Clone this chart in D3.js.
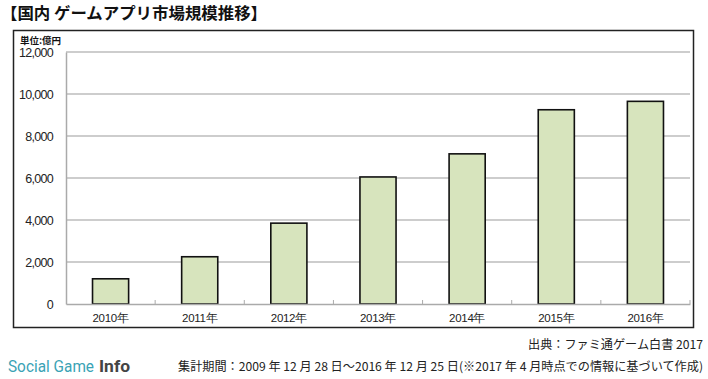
<!DOCTYPE html>
<html><head><meta charset="utf-8">
<script src="https://cdn.jsdelivr.net/npm/d3@7"></script>
<style>body{margin:0;background:#fff}svg{display:block}</style>
</head><body>
<svg id="c" width="708" height="379"></svg>
<script>
const categories = ["2010年","2011年","2012年","2013年","2014年","2015年","2016年"];
const values = [1200, 2250, 3850, 6050, 7150, 9250, 9650];
const yTicks = [0, 2000, 4000, 6000, 8000, 10000, 12000];

const svg = d3.select("#c");
const jp = "'Noto Sans CJK JP', sans-serif";
const lat = "'Liberation Sans', Arial, sans-serif";

// title
svg.append("text").attr("x", 1).attr("y", 19).attr("font-family", jp).attr("font-weight", "bold")
  .attr("font-size", 16).attr("fill", "#111").attr("textLength", 266).attr("lengthAdjust", "spacingAndGlyphs")
  .text("【国内 ゲームアプリ市場規模推移】");

// frame
svg.append("rect").attr("x", 13.5).attr("y", 30.5).attr("width", 680).attr("height", 297)
  .attr("fill", "#fff").attr("stroke", "#222").attr("stroke-width", 1.5);

const x = d3.scaleBand().domain(categories).range([66, 690]).paddingInner(0.595).paddingOuter(0.2975);
const xb = d3.scaleBand().domain(categories).range([66, 690]);
const y = d3.scaleLinear().domain([0, 12000]).range([304, 52]);

// gridlines
svg.append("g").selectAll("line").data(yTicks.filter(d => d > 0)).join("line")
  .attr("x1", 66).attr("x2", 690).attr("y1", d => y(d)).attr("y2", d => y(d))
  .attr("stroke", "#bdbdbd").attr("stroke-width", 1.5);

// y axis
const ya = svg.append("g").attr("transform", "translate(66,0)")
  .call(d3.axisLeft(y).tickValues(yTicks).tickSize(0).tickPadding(13).tickFormat(d3.format(",")));
ya.select(".domain").attr("stroke", "#aaa").attr("stroke-width", 1.5);
ya.selectAll("text").attr("font-family", lat).attr("font-size", 12.5).attr("fill", "#222")
  .attr("letter-spacing", "-0.7");

// bars
svg.append("g").selectAll("rect").data(values).join("rect")
  .attr("x", (d, i) => x(categories[i])).attr("width", x.bandwidth())
  .attr("y", d => y(d)).attr("height", d => y(0) - y(d))
  .attr("fill", "#d7e4bd").attr("stroke", "#111").attr("stroke-width", 1.6);

// x axis
const xa = svg.append("g").attr("transform", "translate(0,304)")
  .call(d3.axisBottom(xb).tickSize(0).tickPadding(10));
xa.select(".domain").attr("stroke", "#aaa").attr("stroke-width", 1.5);
xa.selectAll("text").attr("font-family", lat).attr("font-size", 11.5).attr("fill", "#222")
  .attr("letter-spacing", "-0.3");
// category boundary ticks
svg.append("g").selectAll("line").data(categories.slice(1).concat(["end"])).join("line")
  .attr("x1", (d, i) => 66 + xb.step() * (i + 1)).attr("x2", (d, i) => 66 + xb.step() * (i + 1))
  .attr("y1", 304).attr("y2", 300).attr("stroke", "#aaa").attr("stroke-width", 1);

// unit
svg.append("text").attr("x", 20).attr("y", 44).attr("font-family", jp).attr("font-weight", "bold")
  .attr("font-size", 9.5).attr("fill", "#111").text("単位:億円");

// source
svg.append("text").attr("x", 703).attr("y", 349).attr("text-anchor", "end").attr("font-family", jp)
  .attr("font-size", 12).attr("fill", "#222").attr("textLength", 175).attr("lengthAdjust", "spacingAndGlyphs")
  .text("出典：ファミ通ゲーム白書 2017");

svg.append("text").attr("x", 178).attr("y", 371).attr("font-family", jp)
  .attr("font-size", 12).attr("fill", "#222").attr("textLength", 525).attr("lengthAdjust", "spacingAndGlyphs")
  .text("集計期間：2009 年 12 月 28 日〜2016 年 12 月 25 日(※2017 年 4 月時点での情報に基づいて作成)");

svg.append("text").attr("x", 8).attr("y", 372).attr("font-family", "Roboto, 'Liberation Sans', sans-serif")
  .attr("font-size", 16).attr("fill", "#3aa3b5").attr("textLength", 86).attr("lengthAdjust", "spacingAndGlyphs")
  .text("Social Game");
svg.append("text").attr("x", 99).attr("y", 372).attr("font-family", "Roboto, 'Liberation Sans', sans-serif")
  .attr("font-size", 16.5).attr("font-weight", "bold").attr("fill", "#444").attr("textLength", 31).attr("lengthAdjust", "spacingAndGlyphs")
  .text("Info");
</script>
</body></html>
